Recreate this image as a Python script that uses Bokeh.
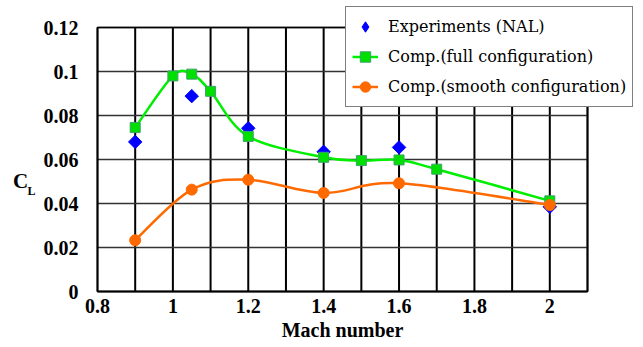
import numpy as np
from bokeh.plotting import figure
from bokeh.models import Range1d, FixedTicker, Legend, LegendItem, Label
from bokeh.embed import file_html
from bokeh.resources import INLINE

# ---- data ----
mach_exp = [0.9, 1.05, 1.2, 1.4, 1.6, 2.0]
cl_exp = [0.068, 0.0888, 0.0742, 0.0635, 0.0655, 0.0385]

mach_full = [0.9, 1.0, 1.05, 1.1, 1.2, 1.4, 1.5, 1.6, 1.7, 2.0]
cl_full = [0.0745, 0.098, 0.0988, 0.091, 0.0705, 0.061, 0.0595, 0.0598, 0.0556, 0.0412]

mach_smooth = [0.9, 1.05, 1.2, 1.4, 1.6, 2.0]
cl_smooth = [0.0233, 0.0463, 0.0508, 0.0448, 0.0492, 0.0393]

x_ticks = [0.8, 1, 1.2, 1.4, 1.6, 1.8, 2]
x_tick_labels = ["0.8", "1", "1.2", "1.4", "1.6", "1.8", "2"]
x_minor = [0.9, 1.1, 1.3, 1.5, 1.7, 1.9, 2.1]
y_ticks = [0, 0.02, 0.04, 0.06, 0.08, 0.1, 0.12]
y_tick_labels = ["0", "0.02", "0.04", "0.06", "0.08", "0.1", "0.12"]
x_lim = [0.8, 2.1]
y_lim = [0, 0.12]

labels = ["Experiments (NAL)", "Comp.(full configuration)", "Comp.(smooth configuration)"]
x_title = "Mach number"
y_title = ["C", "L"]

FONT_B = "Liberation Serif"   # bold texts
FONT_R = "DejaVu Serif"       # regular texts

# ---- layout (pixels) ----
W, H = 643, 347
FL, FR, FT, FB = 97, 587, 27, 291  # plot box edges on the canvas

sx = (x_lim[1] - x_lim[0]) / (FR - FL)
sy = (y_lim[1] - y_lim[0]) / (FB - FT)
x_range = Range1d(x_lim[0] - FL * sx, x_lim[1] + (W - FR) * sx)
y_range = Range1d(y_lim[0] - (H - FB) * sy, y_lim[1] + FT * sy)


def smooth_segments(xs, ys):
    """Bezier control points (Catmull-Rom style smoothing) through the given points."""
    P = np.column_stack([xs, ys]).astype(float)
    n = len(P)
    out = {k: [] for k in ["x0", "y0", "x1", "y1", "cx0", "cy0", "cx1", "cy1"]}
    for i in range(n - 1):
        p0 = P[i - 1] if i > 0 else P[i]
        p3 = P[i + 2] if i + 2 < n else P[i + 1]
        c1 = P[i] + (P[i + 1] - p0) / 6.0
        c2 = P[i + 1] - (p3 - P[i]) / 6.0
        out["x0"].append(P[i][0]); out["y0"].append(P[i][1])
        out["x1"].append(P[i + 1][0]); out["y1"].append(P[i + 1][1])
        out["cx0"].append(c1[0]); out["cy0"].append(c1[1])
        out["cx1"].append(c2[0]); out["cy1"].append(c2[1])
    return out


p = figure(width=W, height=H, output_backend="svg", toolbar_location=None, title=None,
           x_range=x_range, y_range=y_range, min_border=0)
p.background_fill_color = "white"
p.border_fill_color = "white"
p.outline_line_color = None
p.xgrid.visible = False
p.ygrid.visible = False

# grid lines (from tick arrays) and plot box
v_lines = x_ticks[1:] + x_minor
p.segment(x0=v_lines, y0=[y_lim[0]] * len(v_lines), x1=v_lines, y1=[y_lim[1]] * len(v_lines),
          line_color="black", line_width=2)
h_lines = y_ticks[1:]
p.segment(x0=[x_lim[0]] * len(h_lines), y0=h_lines, x1=[x_lim[1]] * len(h_lines), y1=h_lines,
          line_color="#333333", line_width=1.5)
p.quad(left=[x_lim[0]], right=[x_lim[1]], bottom=[y_lim[0]], top=[y_lim[1]],
       fill_color=None, line_color="black", line_width=1.5)

# axes fixed at the plot box edges
p.xaxis.fixed_location = y_lim[0]
p.yaxis.fixed_location = x_lim[0]
p.xaxis.bounds = tuple(x_lim)
p.yaxis.bounds = tuple(y_lim)
p.xaxis.ticker = FixedTicker(ticks=x_ticks, minor_ticks=[])
p.yaxis.ticker = FixedTicker(ticks=y_ticks, minor_ticks=[])
p.xaxis.major_label_overrides = dict(zip(x_ticks, x_tick_labels))
p.yaxis.major_label_overrides = dict(zip(y_ticks, y_tick_labels))
for ax in (p.xaxis, p.yaxis):
    ax.major_tick_line_color = None
    ax.minor_tick_line_color = None
    ax.major_tick_out = 0
    ax.major_tick_in = 0
    ax.minor_tick_out = 0
    ax.minor_tick_in = 0
    ax.axis_line_color = "black"
    ax.axis_line_width = 2
    ax.major_label_text_font = FONT_B
    ax.major_label_text_font_style = "bold"
    ax.major_label_text_font_size = "20px"
    ax.major_label_text_color = "black"
p.yaxis.major_label_standoff = 19
p.xaxis.major_label_standoff = 7

# axis titles
p.add_layout(Label(x=sum(x_lim) / 2, x_units="data", y=H - 329, y_units="screen",
                   text=x_title, text_font=FONT_B, text_font_style="bold",
                   text_font_size="20px", text_align="center", text_baseline="middle",
                   text_color="black"))
p.add_layout(Label(x=20, y=H - 180, x_units="screen", y_units="screen", text=y_title[0],
                   text_font=FONT_B, text_font_style="bold", text_font_size="21px",
                   text_align="center", text_baseline="middle", text_color="black"))
p.add_layout(Label(x=27, y=H - 183, x_units="screen", y_units="screen", text=y_title[1],
                   text_font=FONT_B, text_font_style="bold", text_font_size="12px",
                   text_align="left", text_baseline="top", text_color="black"))

# series
r_exp_leg = p.scatter(mach_exp, cl_exp, marker="diamond", size=11,
                      fill_color="#0000ff", line_color="#0000ff")
r_exp = p.scatter(mach_exp, cl_exp, marker="square", angle=np.pi / 4, size=9.5,
                  fill_color="#0000ff", line_color="#0000ff")

seg_full = smooth_segments(mach_full, cl_full)
b_full = p.bezier(line_color="#00ee00", line_width=2.5, **seg_full)
s_full = p.scatter(mach_full, cl_full, marker="square", size=10,
                   fill_color="#00e000", line_color="#3f9f6f", line_width=1)

seg_sm = smooth_segments(mach_smooth, cl_smooth)
b_sm = p.bezier(line_color="#ff6a00", line_width=2.5, **seg_sm)
s_sm = p.scatter(mach_smooth, cl_smooth, marker="circle", size=11,
                 fill_color="#ff6a00", line_color="#ff6a00")

legend = Legend(items=[
    LegendItem(label=labels[0], renderers=[r_exp_leg]),
    LegendItem(label=labels[1], renderers=[b_full, s_full]),
    LegendItem(label=labels[2], renderers=[b_sm, s_sm]),
], location=(345, H - 107))
legend.label_text_font = FONT_R
legend.label_text_font_size = "16px"
legend.label_text_color = "black"
legend.border_line_color = "black"
legend.border_line_width = 1.2
legend.background_fill_color = "white"
legend.background_fill_alpha = 1.0
legend.glyph_width = 26
legend.glyph_height = 27
legend.label_height = 27
legend.label_standoff = 10
legend.spacing = 3
legend.padding = 6
legend.margin = 0
p.add_layout(legend, "center")

open("out.html", "w").write(file_html(p, INLINE))
